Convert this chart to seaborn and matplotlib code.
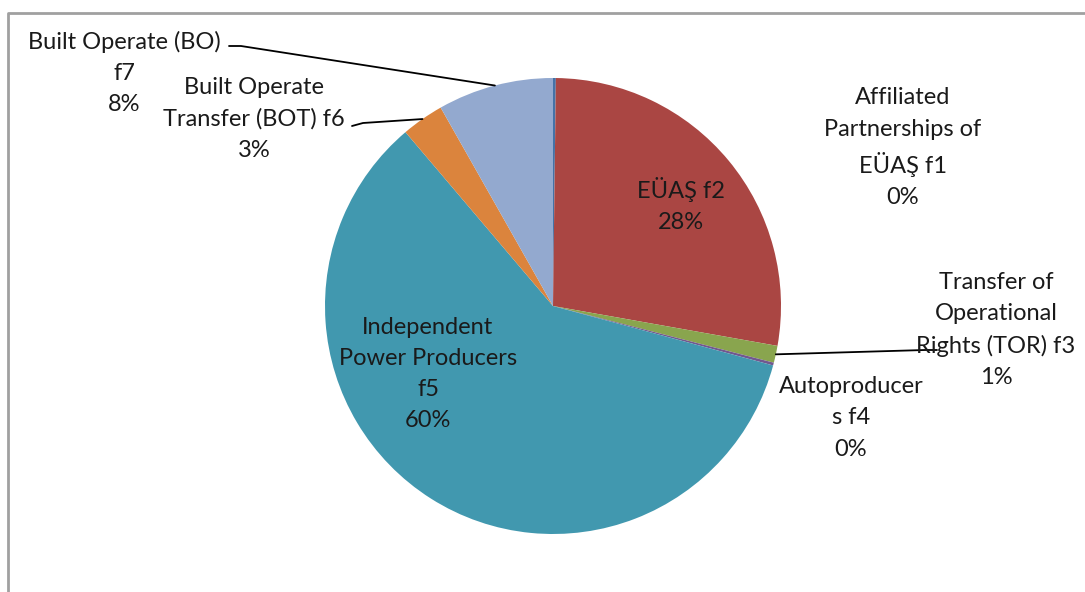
import numpy as np
import seaborn as sns
import matplotlib.pyplot as plt

# Shares of installed power by producer type (%)
names = ["Affiliated\nPartnerships of\nEÜAŞ f1", "EÜAŞ f2",
         "Transfer of\nOperational\nRights (TOR) f3", "Autoproducer\ns f4",
         "Independent\nPower Producers\nf5", "Built Operate\nTransfer (BOT) f6",
         "Built Operate (BO)\nf7"]
shares = [0.2, 27.6, 1.2, 0.2, 59.6, 3.0, 8.2]
colors = ["#4572A7", "#AA4643", "#89A54E", "#71588F", "#4198AF", "#DB843D", "#93A9CF"]

sns.set_theme(style="white")
plt.rcParams["font.family"] = ["Lato", "DejaVu Sans"]

W, H = 1085, 592
fig = plt.figure(figsize=(W / 100, H / 100), dpi=100)
ax = fig.add_axes([0, 0, 1, 1])

cx, cy, R = 553, H - 306, 228
wedges, _ = ax.pie(shares, colors=colors, startangle=90, counterclock=False,
                   center=(cx, cy), radius=R, frame=True,
                   wedgeprops=dict(linewidth=0))
ax.set_xlim(0, W)
ax.set_ylim(0, H)
ax.set_aspect("equal")
ax.axis("off")

total = sum(shares)
pcts = ["%d%%" % round(v / total * 100) for v in shares]

# label positions (pixel coords of label centre)
label_pos = [(903, 148), (681, 205), (996, 330), (851, 418),
             (428, 374), (254, 119), (124, 73)]
for name, pct, (x, y) in zip(names, pcts, label_pos):
    ax.text(x, H - y, name + "\n" + pct, ha="center", va="center",
            fontsize=17, color="#1a1a1a", linespacing=1.6)

# leader lines: from text to wedge mid-point on the rim
def rim_point(i):
    w = wedges[i]
    a = np.deg2rad((w.theta1 + w.theta2) / 2)
    return cx + R * np.cos(a), cy + R * np.sin(a)

leaders = {6: [(229, 46), (241, 46)], 5: [(352, 126), (363, 123)],
           2: [(937, 350), (925, 350)]}
for i, pts in leaders.items():
    rx, ry = rim_point(i)
    xs = [p[0] for p in pts] + [rx]
    ys = [H - p[1] for p in pts] + [ry]
    ax.plot(xs, ys, color="black", lw=1.3)

# chart frame
ax.plot([8, 8, W + 5], [-5, H - 13, H - 13], color="#a0a0a0", lw=2, clip_on=False)

fig.savefig("out.png", dpi=100)
